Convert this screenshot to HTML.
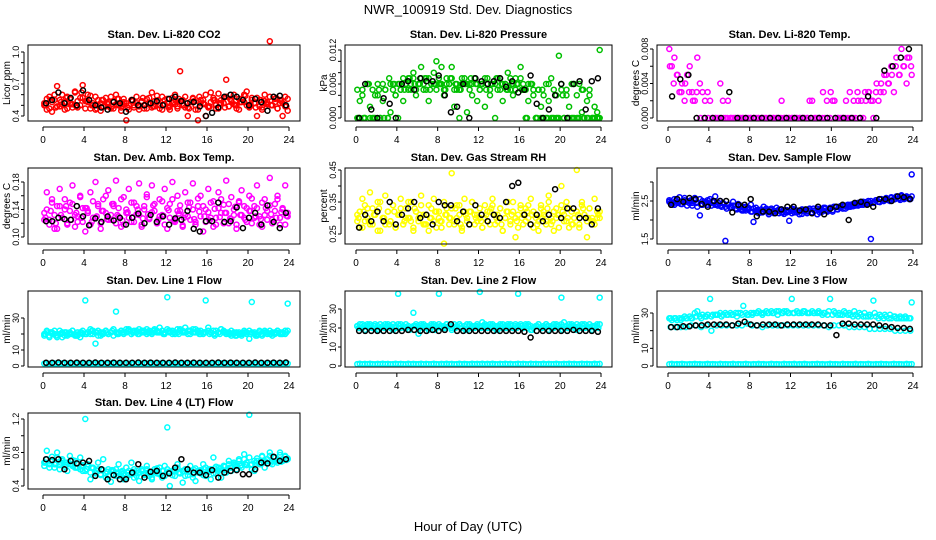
<!DOCTYPE html>
<html><head><meta charset="utf-8"><style>
html,body{margin:0;padding:0;background:#fff;}
svg{display:block;font-family:"Liberation Sans",Arial,sans-serif;}
</style></head><body>
<svg id="chart" width="936" height="540" viewBox="0 0 936 540" xmlns="http://www.w3.org/2000/svg">
<text x="468" y="14" text-anchor="middle" font-size="13">NWR_100919  Std. Dev. Diagnostics</text>
<text x="468" y="531" text-anchor="middle" font-size="13">Hour of Day (UTC)</text>
</svg>
<script>
// ---- data ----
const co2Red=[0.52,0.46,0.58,0.44,0.55,0.68,0.49,0.60,0.53,0.47,0.56,0.51,0.62,0.48,0.57,0.69,0.54,0.60,0.47,0.52,0.58,0.50,0.45,0.55,0.49,0.53,0.58,0.47,0.51,0.56,0.45,0.53,0.36,0.50,0.55,0.48,0.52,0.46,0.54,0.50,0.47,0.57,0.62,0.49,0.53,0.47,0.58,0.51,0.56,0.46,0.52,0.60,0.49,0.82,0.55,0.48,0.40,0.53,0.57,0.46,0.36,0.52,0.55,0.40,0.48,0.62,0.55,0.47,0.61,0.52,0.57,0.74,0.49,0.55,0.60,0.50,0.46,0.56,0.53,0.63,0.49,0.57,0.52,0.40,0.55,0.48,0.60,0.53,1.10,0.50,0.56,0.47,0.52,0.40,0.58,0.45];
const co2Red2=[0.50,0.55,0.48,0.53,0.57,0.51,0.49,0.62,0.54,0.50,0.47,0.55,0.52,0.49,0.56,0.51,0.48,0.54,0.50,0.57,0.52,0.49,0.55,0.51,0.48,0.53,0.56,0.50,0.47,0.54,0.58,0.51,0.49,0.55,0.52,0.48,0.56,0.50,0.53,0.59,0.51,0.48,0.55,0.52,0.50,0.57,0.54,0.49];
const co2Red3=[0.50,0.56,0.47,0.53,0.60,0.49,0.55,0.51,0.46,0.58,0.52,0.48,0.63,0.54,0.50,0.57,0.47,0.53,0.59,0.50,0.46,0.55,0.52,0.49,0.57,0.51,0.47,0.54,0.60,0.50,0.48,0.56,0.52,0.46,0.55,0.50,0.58,0.49,0.53,0.47,0.56,0.51,0.48,0.54,0.59,0.50,0.46,0.55,0.52,0.49,0.57,0.51,0.47,0.54,0.50,0.58,0.48,0.53,0.56,0.50,0.46,0.55,0.52,0.60,0.49,0.53,0.57,0.50,0.47,0.55,0.52,0.58,0.49,0.54,0.51,0.47,0.56,0.53,0.60,0.50,0.48,0.55,0.52,0.57,0.49,0.46,0.54,0.51,0.58,0.50,0.53,0.47,0.55,0.52,0.49,0.56];
const co2Black=[0.52,0.55,0.62,0.52,0.57,0.50,0.64,0.55,0.50,0.48,0.46,0.53,0.52,0.44,0.55,0.50,0.50,0.52,0.54,0.50,0.56,0.58,0.54,0.52,0.53,0.49,0.40,0.43,0.48,0.58,0.60,0.58,0.55,0.50,0.56,0.53,0.45,0.58,0.59,0.50];
const presGreen=[0,0.003,0.005,0,0.006,0.002,0,0.004,0.006,0,0.003,0.005,0,0.001,0.006,0.004,0,0.005,0.003,0.006,0.007,0.005,0.008,0.004,0.006,0.009,0.005,0.007,0.003,0.006,0.008,0.010,0.006,0.009,0.004,0.007,0.006,0.009,0.002,0.005,0,0.007,0.006,0.001,0.006,0.004,0.007,0.003,0.005,0.006,0.002,0.007,0.004,0.006,0,0.005,0.007,0.003,0.006,0.008,0.005,0.004,0.007,0.006,0.009,0.005,0,0.003,0.006,0.004,0,0.005,0.002,0,0.006,0.003,0.007,0,0.004,0.011,0.006,0,0.005,0.002,0.006,0,0.004,0.006,0.001,0,0.003,0.005,0,0.002,0.001,0.012];
const presGreen2=[0,0,0.006,0,0.005,0,0.007,0.006,0.006,0.005,0.007,0.006,0.006,0.007,0.005,0.006,0.006,0.005,0.007,0.006,0.005,0.006,0.007,0.006,0.006,0.005,0.006,0.007,0.006,0.005,0.006,0.006,0.005,0,0.006,0,0.005,0,0,0,0.004,0,0,0,0.005,0,0,0];
const presGreen3=[0.005,0,0.004,0,0.006,0,0.005,0,0.004,0,0.006,0.005,0,0.006,0.005,0.004,0.006,0.005,0.007,0.006,0.005,0.006,0.007,0.005,0.006,0.007,0.006,0.005,0.007,0.006,0.006,0.005,0.007,0.006,0.005,0.006,0.006,0.007,0.005,0.006,0.005,0.006,0.007,0.006,0.005,0.006,0.007,0.006,0.005,0.006,0.007,0.006,0.005,0.006,0.006,0.007,0.005,0.006,0.006,0.005,0.007,0.006,0.005,0.006,0.007,0.006,0.005,0.006,0.006,0.005,0,0.005,0,0.004,0,0.006,0,0.005,0,0,0.005,0,0.004,0,0,0.006,0,0,0.005,0,0,0.004,0,0,0,0];
const presBlack=[0,0.006,0.0015,0,0.0035,0.0025,0,0.006,0.0065,0.005,0.007,0.0065,0.0065,0.0075,0.004,0.001,0.002,0.006,0,0.007,0.0065,0.006,0.0065,0.007,0.0055,0.0065,0.0045,0.005,0.0075,0.0025,0,0.0015,0.004,0.006,0,0.006,0.0065,0.0015,0.0065,0.007];
const tempMag=[0.008,0.006,0.007,0.005,0.003,0.004,0.002,0.005,0.006,0.003,0.002,0.007,0.004,0.003,0.002,0.003,0.002,0,0,0,0.004,0.002,0,0.002,0,0,0,0,0,0,0,0,0,0,0,0,0,0,0,0,0,0,0,0,0.002,0,0,0,0,0,0,0,0,0,0,0.002,0.002,0,0,0,0,0,0,0,0.002,0,0,0,0,0,0,0,0,0,0.002,0,0,0.002,0.003,0.002,0,0.003,0.002,0.004,0.003,0.005,0.004,0.006,0.003,0.007,0.005,0.008,0.006,0.004,0.007,0.005];
const tempMag2=[0.006,0.004,0.005,0.003,0.004,0.003,0.002,0.003,0,0,0,0,0,0,0,0,0,0,0,0,0,0,0,0,0,0,0,0,0,0,0,0,0,0,0,0,0,0,0,0,0.003,0.002,0.003,0.002,0,0,0.002,0.003,0.002,0.003,0.002,0.003,0.003,0.002,0.004,0.003,0.005,0.004,0.005,0.006,0.005,0.006,0.007,0.006];
const tempBlack=[0.0025,0.0045,0.005,0,0,0,0,0.003,0,0,0,0,0,0,0,0,0,0,0,0,0,0,0,0,0.0025,0,0.0055,0.006,0.007,0.008];
const ambMag=[0.135,0.165,0.125,0.155,0.112,0.145,0.170,0.128,0.140,0.118,0.150,0.175,0.132,0.122,0.160,0.142,0.108,0.138,0.165,0.128,0.180,0.148,0.120,0.155,0.135,0.168,0.125,0.145,0.182,0.130,0.115,0.158,0.140,0.170,0.122,0.150,0.133,0.178,0.118,0.145,0.162,0.128,0.175,0.138,0.120,0.155,0.132,0.170,0.112,0.148,0.180,0.125,0.160,0.138,0.117,0.165,0.130,0.150,0.178,0.122,0.145,0.160,0.108,0.140,0.170,0.128,0.152,0.118,0.165,0.135,0.147,0.182,0.120,0.158,0.132,0.112,0.150,0.168,0.128,0.142,0.160,0.120,0.145,0.175,0.130,0.115,0.155,0.138,0.186,0.125,0.148,0.160,0.118,0.140,0.175,0.130];
const ambMag2=[0.128,0.138,0.120,0.132,0.145,0.125,0.135,0.128,0.142,0.122,0.130,0.138,0.126,0.148,0.132,0.124,0.136,0.129,0.140,0.127,0.133,0.146,0.125,0.131,0.139,0.123,0.134,0.128,0.143,0.126,0.137,0.130,0.124,0.141,0.129,0.135,0.127,0.144,0.132,0.125,0.138,0.130,0.126,0.142,0.133,0.128,0.136,0.131];
const ambMag3=[0.125,0.140,0.118,0.150,0.132,0.112,0.145,0.128,0.155,0.120,0.138,0.148,0.115,0.130,0.158,0.122,0.142,0.135,0.118,0.152,0.128,0.145,0.112,0.138,0.160,0.125,0.132,0.148,0.120,0.142,0.155,0.118,0.135,0.128,0.150,0.122,0.145,0.132,0.115,0.140,0.158,0.126,0.136,0.148,0.120,0.130,0.152,0.118,0.142,0.128,0.155,0.122,0.138,0.146,0.115,0.132,0.150,0.125,0.140,0.118,0.156,0.130,0.145,0.122,0.136,0.150,0.115,0.128,0.142,0.155,0.120,0.135,0.148,0.126,0.140,0.118,0.152,0.132,0.145,0.122,0.138,0.156,0.128,0.142,0.118,0.150,0.132,0.125,0.146,0.120,0.138,0.155,0.128,0.142,0.118,0.135];
const ambBlack=[0.123,0.123,0.128,0.126,0.125,0.145,0.130,0.117,0.127,0.122,0.130,0.124,0.128,0.118,0.128,0.134,0.120,0.132,0.122,0.130,0.118,0.127,0.125,0.138,0.112,0.108,0.123,0.123,0.150,0.122,0.123,0.143,0.113,0.128,0.135,0.118,0.146,0.122,0.113,0.135];
const rhYel=[0.31,0.27,0.36,0.29,0.33,0.38,0.28,0.31,0.35,0.26,0.30,0.37,0.32,0.29,0.34,0.27,0.31,0.36,0.28,0.33,0.30,0.35,0.26,0.32,0.29,0.37,0.31,0.28,0.34,0.30,0.36,0.27,0.32,0.29,0.22,0.33,0.30,0.44,0.28,0.34,0.31,0.26,0.36,0.29,0.32,0.35,0.28,0.31,0.30,0.27,0.34,0.29,0.32,0.36,0.28,0.31,0.33,0.26,0.30,0.35,0.29,0.32,0.24,0.31,0.34,0.28,0.33,0.30,0.36,0.27,0.31,0.29,0.34,0.32,0.28,0.37,0.30,0.26,0.33,0.31,0.40,0.29,0.35,0.27,0.32,0.30,0.45,0.28,0.34,0.31,0.24,0.33,0.29,0.36,0.30,0.32];
const rhYel2=[0.30,0.32,0.29,0.31,0.33,0.30,0.28,0.32,0.31,0.29,0.30,0.33,0.31,0.28,0.30,0.32,0.29,0.31,0.30,0.33,0.28,0.31,0.32,0.30,0.29,0.31,0.33,0.30,0.28,0.32,0.31,0.29,0.30,0.32,0.31,0.28,0.30,0.33,0.29,0.31,0.32,0.30,0.28,0.31,0.33,0.30,0.29,0.31];
const rhYel3=[0.29,0.32,0.27,0.34,0.30,0.28,0.33,0.31,0.26,0.35,0.30,0.28,0.32,0.29,0.34,0.27,0.31,0.33,0.28,0.30,0.35,0.29,0.27,0.32,0.30,0.34,0.28,0.31,0.26,0.33,0.29,0.32,0.30,0.27,0.35,0.31,0.28,0.33,0.29,0.30,0.34,0.27,0.32,0.30,0.28,0.35,0.31,0.29,0.33,0.27,0.30,0.32,0.28,0.34,0.31,0.29,0.33,0.26,0.30,0.32,0.28,0.35,0.30,0.27,0.33,0.31,0.29,0.34,0.28,0.32,0.30,0.26,0.33,0.31,0.29,0.35,0.28,0.32,0.30,0.27,0.34,0.31,0.29,0.33,0.28,0.30,0.32,0.27,0.35,0.31,0.29,0.33,0.30,0.28,0.32,0.30];
const rhBlack=[0.27,0.31,0.29,0.32,0.29,0.35,0.28,0.31,0.33,0.35,0.30,0.31,0.28,0.35,0.34,0.34,0.29,0.32,0.28,0.34,0.31,0.29,0.31,0.30,0.35,0.40,0.41,0.31,0.28,0.31,0.29,0.31,0.39,0.30,0.33,0.33,0.30,0.30,0.28,0.33];
const flowBlue=[2.48,2.40,2.55,2.45,2.60,2.42,2.52,2.38,2.50,2.45,2.58,2.35,2.12,2.50,2.44,2.40,2.55,2.47,2.62,2.38,2.50,2.45,1.45,2.40,2.35,2.48,2.30,2.42,2.38,2.25,2.35,2.28,2.40,1.95,2.32,2.25,2.20,2.35,2.28,2.15,2.30,2.22,2.32,2.18,2.28,2.25,2.20,1.98,2.30,2.20,2.25,2.15,2.28,2.22,2.18,2.30,2.20,2.25,2.15,2.28,2.22,2.32,2.25,2.30,2.22,2.35,2.28,2.32,2.38,2.30,2.40,2.35,2.42,2.38,2.45,2.40,2.48,2.42,2.50,1.50,2.45,2.52,2.48,2.55,2.50,2.58,2.52,2.60,2.55,2.62,2.58,2.65,2.55,2.62,2.58,3.20];
const flowBlue2=[2.45,2.50,2.42,2.48,2.52,2.45,2.40,2.47,2.38,2.42,2.35,2.30,2.33,2.28,2.25,2.30,2.22,2.26,2.20,2.24,2.22,2.25,2.20,2.23,2.25,2.22,2.27,2.24,2.30,2.26,2.32,2.28,2.35,2.33,2.38,2.36,2.42,2.40,2.45,2.43,2.48,2.47,2.52,2.50,2.55,2.53,2.57,2.55];
const flowBlue3=[2.52,2.45,2.40,2.55,2.48,2.42,2.58,2.50,2.44,2.38,2.52,2.46,2.55,2.40,2.48,2.52,2.44,2.50,2.40,2.46,2.38,2.44,2.35,2.40,2.32,2.38,2.30,2.36,2.28,2.34,2.25,2.32,2.22,2.30,2.24,2.18,2.28,2.22,2.30,2.20,2.26,2.18,2.24,2.28,2.20,2.16,2.26,2.22,2.18,2.28,2.20,2.24,2.16,2.26,2.22,2.28,2.18,2.24,2.30,2.20,2.26,2.30,2.22,2.32,2.26,2.34,2.28,2.36,2.30,2.38,2.34,2.40,2.36,2.42,2.38,2.45,2.40,2.47,2.43,2.50,2.46,2.52,2.48,2.55,2.50,2.56,2.52,2.58,2.54,2.60,2.56,2.62,2.58,2.60,2.55,2.62];
const flowBlack=[2.40,2.55,2.48,2.58,2.55,2.42,2.35,2.50,2.50,2.50,2.20,2.40,2.40,2.55,2.10,2.22,2.22,2.18,2.28,2.35,2.35,2.25,2.28,2.18,2.35,2.15,2.30,2.35,2.40,2.00,2.45,2.48,2.40,2.35,2.55,2.55,2.50,2.62,2.60,2.55];
const l1Cyan=[19,21,18,20,22,19,20,18,21,19,20,22,19,21,18,20,41,21,20,22,14,19,21,20,22,20,21,19,34,21,22,20,21,23,20,22,21,20,22,21,23,21,20,22,21,24,22,21,43,22,20,21,23,22,21,24,20,22,23,21,22,20,21,41,24,21,22,20,21,23,22,21,20,22,21,19,21,20,22,21,17,40,21,20,22,19,21,20,22,21,20,22,21,20,22,39];
const l1Cyan2=[20,21,19,20,21,20,19,21,20,22,21,20,21,22,20,21,22,21,20,22,21,22,21,20,22,21,20,21,22,21,20,21,20,19,20,21,20,19,20,21,20,19,20,21,20,21,20,21];
const l1Cyan3=[20,22,19,21,20,18,22,21,19,20,21,22,20,19,21,22,20,21,23,20,21,22,19,21,22,20,21,23,21,20,22,21,23,22,20,21,22,23,21,22,20,22,21,23,22,21,22,20,23,21,22,20,21,23,22,21,22,20,21,23,21,22,20,21,22,21,20,22,21,23,21,20,21,19,20,21,20,19,21,20,22,21,20,19,21,20,22,21,20,19,21,22,20,21,20,22];
const l1Low=[1.5,1.6,1.4,1.5,1.7,1.5,1.4,1.6,1.5,1.5,1.6,1.4,1.5,1.7,1.5,1.6,1.4,1.5,1.6,1.5,1.4,1.6,1.5,1.7,1.5,1.4,1.6,1.5,1.5,1.6,1.4,1.5,1.7,1.5,1.6,1.4,1.5,1.6,1.5,1.4,1.6,1.5,1.7,1.5,1.4,1.6,1.5,1.5,1.5,1.6,1.4,1.5,1.7,1.5,1.4,1.6,1.5,1.5,1.6,1.4,1.5,1.7,1.5,1.6,1.4,1.5,1.6,1.5,1.4,1.6,1.5,1.7,1.5,1.4,1.6,1.5,1.5,1.6,1.4,1.5,1.7,1.5,1.6,1.4,1.5,1.6,1.5,1.4,1.6,1.5,1.7,1.5,1.4,1.6,1.5,1.5];
const l1Black=[2,2,2.2,2,2,2.1,2,2,2.2,2,2,2.1,2,2,2,2.2,2,2.1,2,2,2,2.2,2,2,2.1,2,2,2,2.2,2,2.1,2,2,2,2.2,2,2,2.1,2,2.2];
const l2Cyan=[21,20,22,19,21,22,20,21,19,22,21,20,22,21,19,20,38,22,21,20,21,20,28,21,17,22,20,21,19,21,22,20,38,21,20,22,21,19,20,21,22,20,21,19,22,21,20,21,39,23,21,20,22,21,20,19,21,22,20,21,22,20,21,38,21,20,22,21,19,20,21,22,20,21,22,19,21,20,22,21,36,23,21,20,22,21,19,21,20,22,21,20,19,21,22,36];
const l2Cyan2=[20,21,20,21,19,20,21,20,21,20,19,21,20,21,20,19,21,20,21,20,21,19,20,21,20,21,20,19,21,20,21,20,21,20,19,21,20,21,20,21,19,20,21,20,21,20,21,20];
const l2Cyan3=[21,22,20,21,22,21,20,22,21,20,21,22,21,20,22,21,22,20,21,22,21,20,21,22,20,21,22,21,20,22,21,21,22,20,21,22,21,20,22,21,22,20,21,22,21,20,21,22,20,21,22,21,20,22,21,21,22,20,21,22,21,20,22,21,22,20,21,22,21,20,21,22,20,21,22,21,20,22,21,21,22,20,21,22,21,20,22,21,22,20,21,22,21,20,21,22];
const l2Low=[1,1.2,0.9,1.1,1,1.2,1,0.9,1.1,1,1.2,1,1.1,0.9,1,1.2,1,1.1,1,0.9,1.2,1,1.1,1,1,1.2,0.9,1.1,1,1,1.2,1,0.9,1.1,1,1.2,1,1.1,0.9,1,1.2,1,1.1,1,0.9,1.2,1,1.1,1,1.2,0.9,1.1,1,1.2,1,0.9,1.1,1,1.2,1,1.1,0.9,1,1.2,1,1.1,1,0.9,1.2,1,1.1,1,1,1.2,0.9,1.1,1,1,1.2,1,0.9,1.1,1,1.2,1,1.1,0.9,1,1.2,1,1.1,1,0.9,1.2,1,1.1];
const l2Black=[18.5,18.5,18.5,18.5,18.5,18.5,18.5,18.5,19,19,18.5,18.5,19,18.5,19,22,18.5,18.5,18.5,18.5,18.5,18.5,18.5,18.5,18.5,18.5,18.5,18,15,18.5,18.5,18.5,18.5,18.5,18.5,19,18.5,18.5,18.5,18];
const l3Cyan=[27,26,27,26,27,27,28,27,28,27,30,31,28,29,28,29,38,29,29,29,30,29,30,29,30,29,30,30,30,34,30,29,30,30,30,31,30,30,31,30,31,30,31,31,30,31,31,30,38,30,31,30,30,31,30,30,31,30,30,30,29,30,29,38,29,30,29,29,29,30,29,29,28,29,28,29,28,28,28,28,37,28,27,28,27,28,27,27,28,27,27,27,27,27,27,36];
const l3Cyan2=[27,27,26,27,27,28,27,28,28,29,28,29,29,28,29,29,29,30,29,30,30,29,30,30,30,30,31,30,30,31,30,31,31,30,31,30,31,30,30,29,30,29,29,29,28,28,28,27];
const l3Mid=[22,22,22,22,23,23,22,23,20,23,23,23,23,23,23,24,23,23,22,23,23,23,23,23,23,23,23,23,23,23,23,22,23,23,23,22,22,22,22,21,21,21,21,21,20,20,20,20];
const l3Low=[1,1.2,0.9,1.1,1,1.2,1,0.9,1.1,1,1.2,1,1.1,0.9,1,1.2,1,1.1,1,0.9,1.2,1,1.1,1,1,1.2,0.9,1.1,1,1,1.2,1,0.9,1.1,1,1.2,1,1.1,0.9,1,1.2,1,1.1,1,0.9,1.2,1,1.1,1,1.2,0.9,1.1,1,1.2,1,0.9,1.1,1,1.2,1,1.1,0.9,1,1.2,1,1.1,1,0.9,1.2,1,1.1,1,1,1.2,0.9,1.1,1,1,1.2,1,0.9,1.1,1,1.2,1,1.1,0.9,1,1.2,1,1.1,1,0.9,1.2,1,1.1];
const l3Black=[22,22,22.5,22.5,23,23,23.5,23.5,23.5,23.5,23,24,25,23.5,23,23.5,23.5,23.5,23,23.5,23.5,23.5,23.5,23.5,23.5,23,23,17.5,24,24,23.5,23.5,23.5,23.5,23,22.5,22,21.5,21.5,21];
const l4Cyan=[0.68,0.82,0.62,0.75,0.66,0.80,0.60,0.72,0.68,0.58,0.76,0.64,0.70,0.62,0.74,0.58,1.20,0.66,0.48,0.62,0.56,0.68,0.54,0.72,0.50,0.60,0.45,0.58,0.52,0.66,0.55,0.48,0.62,0.53,0.68,0.50,0.58,0.46,0.60,0.54,0.64,0.52,0.48,0.60,0.55,0.62,0.50,0.64,1.10,0.40,0.58,0.52,0.66,0.55,0.44,0.60,0.53,0.64,0.50,0.46,0.58,0.55,0.66,0.52,0.60,0.48,0.74,0.55,0.62,0.50,0.64,0.56,0.70,0.58,0.66,0.60,0.72,0.62,0.78,0.65,1.25,0.60,0.58,0.70,0.66,0.76,0.62,0.72,0.80,0.66,0.74,0.68,0.80,0.70,0.76,0.72];
const l4Cyan2=[0.68,0.70,0.66,0.68,0.65,0.66,0.62,0.64,0.60,0.62,0.58,0.60,0.57,0.59,0.56,0.58,0.56,0.57,0.55,0.58,0.56,0.57,0.55,0.58,0.57,0.59,0.56,0.58,0.57,0.59,0.58,0.60,0.59,0.61,0.60,0.63,0.62,0.65,0.64,0.66,0.65,0.68,0.66,0.69,0.68,0.70,0.69,0.71];
const l4Cyan3=[0.64,0.72,0.66,0.70,0.62,0.74,0.65,0.70,0.63,0.68,0.66,0.71,0.62,0.67,0.60,0.65,0.58,0.63,0.56,0.61,0.55,0.60,0.53,0.59,0.55,0.52,0.58,0.54,0.60,0.52,0.57,0.55,0.50,0.58,0.54,0.60,0.52,0.56,0.58,0.53,0.60,0.55,0.50,0.57,0.61,0.54,0.58,0.52,0.60,0.56,0.53,0.59,0.62,0.55,0.58,0.52,0.60,0.57,0.54,0.61,0.56,0.59,0.53,0.62,0.57,0.60,0.55,0.63,0.58,0.61,0.64,0.59,0.66,0.62,0.68,0.64,0.70,0.65,0.72,0.68,0.74,0.66,0.70,0.73,0.68,0.75,0.70,0.72,0.76,0.70,0.74,0.71,0.77,0.72,0.75,0.73];
const l4Black=[0.72,0.71,0.72,0.60,0.70,0.67,0.68,0.70,0.52,0.60,0.48,0.53,0.48,0.48,0.56,0.66,0.50,0.57,0.58,0.52,0.55,0.62,0.72,0.60,0.56,0.56,0.53,0.59,0.50,0.56,0.58,0.59,0.54,0.54,0.60,0.68,0.67,0.75,0.70,0.72];
const hourTicks=[0,4,8,12,16,20,24];

// ---- layout ----
const svg=document.getElementById('chart');
const NS='http://www.w3.org/2000/svg';
const cols=[{l:28,r:300,x0:43,x24:289},{l:345,r:612,x0:356,x24:601},{l:657,r:922,x0:668,x24:913}];
const rows=[{t:45,b:121},{t:168,b:244},{t:291,b:367},{t:413,b:489}];
const panels=[
 {name:'co2',title:'Stan. Dev. Li-820 CO2',ylab:'Licor ppm',c:0,r:0,v1:0.4,p1:116,v2:1.0,p2:52,ticks:[0.4,0.5,0.6,0.7,0.8,0.9,1.0],labels:['0.4','0.7','1.0'],series:[[co2Red,'#ff0000'],[co2Red2,'#ff0000'],[co2Red3,'#ff0000'],[co2Black,'#000']]},
 {name:'pressure',title:'Stan. Dev. Li-820 Pressure',ylab:'kPa',c:1,r:0,v1:0,p1:118,v2:0.012,p2:50,ticks:[0,0.002,0.004,0.006,0.008,0.010,0.012],labels:['0.000','0.006','0.012'],series:[[presGreen,'#00c000'],[presGreen2,'#00c000'],[presGreen3,'#00c000'],[presBlack,'#000']]},
 {name:'temp',title:'Stan. Dev. Li-820 Temp.',ylab:'degrees C',c:2,r:0,v1:0,p1:118,v2:0.008,p2:49,ticks:[0,0.002,0.004,0.006,0.008],labels:['0.000','0.004','0.008'],series:[[tempMag,'#ff00ff'],[tempMag2,'#ff00ff'],[tempBlack,'#000']]},
 {name:'amb-temp',title:'Stan. Dev. Amb. Box Temp.',ylab:'degrees C',c:0,r:1,v1:0.10,p1:237,v2:0.18,p2:182,ticks:[0.10,0.12,0.14,0.16,0.18],labels:['0.10','0.14','0.18'],series:[[ambMag,'#ff00ff'],[ambMag2,'#ff00ff'],[ambMag3,'#ff00ff'],[ambBlack,'#000']]},
 {name:'rh',title:'Stan. Dev. Gas Stream RH',ylab:'percent',c:1,r:1,v1:0.25,p1:234,v2:0.45,p2:170,ticks:[0.25,0.30,0.35,0.40,0.45],labels:['0.25','0.35','0.45'],series:[[rhYel,'#ffff00'],[rhYel2,'#ffff00'],[rhYel3,'#ffff00'],[rhBlack,'#000']]},
 {name:'sample-flow',title:'Stan. Dev. Sample Flow',ylab:'ml/min',c:2,r:1,v1:1.5,p1:239,v2:2.5,p2:201,ticks:[1.5,2.0,2.5,3.0],labels:['1.5','2.5'],series:[[flowBlue,'#0000ff'],[flowBlue2,'#0000ff'],[flowBlue3,'#0000ff'],[flowBlack,'#000']]},
 {name:'line1',title:'Stan. Dev. Line 1 Flow',ylab:'ml/min',c:0,r:2,v1:0,p1:366,v2:30,p2:318,ticks:[0,10,20,30],labels:['0','10','30'],series:[[l1Cyan,'#00ffff'],[l1Cyan2,'#00ffff'],[l1Cyan3,'#00ffff'],[l1Low,'#00ffff'],[l1Black,'#000']]},
 {name:'line2',title:'Stan. Dev. Line 2 Flow',ylab:'ml/min',c:1,r:2,v1:0,p1:366,v2:30,p2:309,ticks:[0,10,20,30],labels:['0','10','20','30'],series:[[l2Cyan,'#00ffff'],[l2Cyan2,'#00ffff'],[l2Cyan3,'#00ffff'],[l2Low,'#00ffff'],[l2Black,'#000']]},
 {name:'line3',title:'Stan. Dev. Line 3 Flow',ylab:'ml/min',c:2,r:2,v1:0,p1:366,v2:30,p2:313,ticks:[0,10,20,30],labels:['0','10','30'],series:[[l3Cyan,'#00ffff'],[l3Cyan2,'#00ffff'],[l3Mid,'#00ffff'],[l3Low,'#00ffff'],[l3Black,'#000']]},
 {name:'line4',title:'Stan. Dev. Line 4 (LT) Flow',ylab:'ml/min',c:0,r:3,v1:0.4,p1:486,v2:1.2,p2:419,ticks:[0.4,0.6,0.8,1.0,1.2],labels:['0.4','0.8','1.2'],series:[[l4Cyan,'#00ffff'],[l4Cyan2,'#00ffff'],[l4Cyan3,'#00ffff'],[l4Black,'#000']]}
];
function mk(tag,attrs,parent){const e=document.createElementNS(NS,tag);for(const k in attrs)e.setAttribute(k,attrs[k]);(parent||svg).appendChild(e);return e;}
panels.forEach(p=>{
 const C=cols[p.c],R=rows[p.r];
 const xs=h=>C.x0+(C.x24-C.x0)*h/24;
 const ys=v=>p.p1+(p.p2-p.p1)*(v-p.v1)/(p.v2-p.v1);
 const g=mk('g',{});
 
 
 const t=mk('text',{x:(C.l+C.r)/2,y:R.t-7,'text-anchor':'middle','font-size':11,'font-weight':'bold'},g);
 t.textContent=p.title;
 
 
 const yl=mk('text',{x:0,y:0,'text-anchor':'middle','font-size':10,transform:`translate(${C.l-18},${(R.t+R.b)/2}) rotate(-90)`},g);
 yl.textContent=p.ylab;
 
 
 // points
 p.series.forEach((s,si)=>{
  const arr=s[0],n=arr.length;
  const sg=mk('g',{fill:'none',stroke:s[1],'stroke-width':1.5},g);
  
  
  arr.forEach((v,i)=>{
   const c=mk('circle',{cx:xs((i+0.5)*24/n).toFixed(1),cy:ys(v).toFixed(1),r:2.5},sg);
   
   
  });
 });
 const box=mk('rect',{x:C.l,y:R.t,width:C.r-C.l,height:R.b-R.t,fill:'none',stroke:'#000','stroke-width':1},g);
 
 
 // x axis
 const xa=mk('g',{stroke:'#000','stroke-width':1},g);
 
 
 mk('line',{x1:xs(0),x2:xs(24),y1:R.b+6,y2:R.b+6},xa);
 hourTicks.forEach(h=>{
  mk('line',{x1:xs(h),x2:xs(h),y1:R.b+6,y2:R.b+10},xa);
  const tl=mk('text',{x:xs(h),y:R.b+22,'text-anchor':'middle','font-size':10,stroke:'none',fill:'#000'},xa);
  tl.textContent=h;
  
  
 });
 // y axis
 const ya=mk('g',{stroke:'#000','stroke-width':1},g);
 
 
 const tk=p.ticks;
 mk('line',{x1:C.l-4,x2:C.l-4,y1:ys(tk[0]),y2:ys(tk[tk.length-1])},ya);
 tk.forEach(v=>{mk('line',{x1:C.l-4,x2:C.l-7,y1:ys(v),y2:ys(v)},ya);});
 p.labels.forEach(lb=>{
  const v=parseFloat(lb);
  const tl=mk('text',{x:0,y:0,'text-anchor':'middle','font-size':9,stroke:'none',fill:'#000',transform:`translate(${C.l-9},${ys(v)}) rotate(-90)`},ya);
  tl.textContent=lb;
  
  
 });
});
</script>
</body></html>
